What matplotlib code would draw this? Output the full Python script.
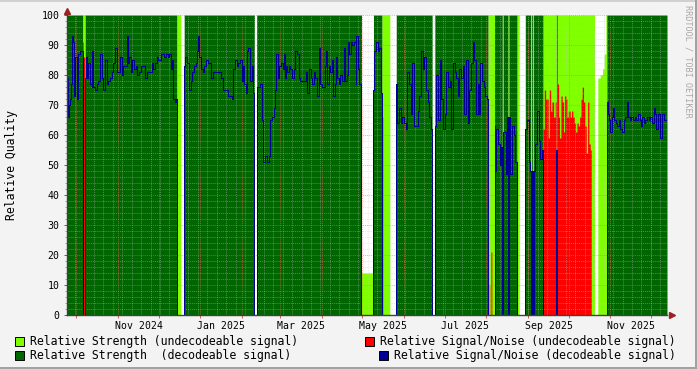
"""RRDtool-style signal quality chart: strength areas + signal/noise."""
import numpy as np
import matplotlib
matplotlib.use("Agg")
import matplotlib.pyplot as plt
import matplotlib.dates as mdates
import matplotlib.transforms as mtransforms
from matplotlib.patches import Rectangle

W, H = 697, 369
START = np.datetime64("2024-09-24")
END_DAY = 445.0

# receiver state, run-length coded: start day (since START), kind, strength level
seg_day = [0.0, 11.6, 13.4, 81.4, 84.4, 86.9, 139.0, 140.7, 218.4, 227.3,
           233.5, 239.4, 244.2, 270.8, 272.8, 312.2, 317.1, 322.8, 323.5, 327.0,
           327.7, 333.7, 335.4, 339.9, 343.8, 344.6, 345.3, 346.0, 353.0, 362.9,
           363.6, 391.3, 393.7, 395.5, 397.2, 398.4, 399.7, 400.4]
seg_kind = ["dec", "undec", "dec", "undec", "gap", "dec", "gap", "dec", "undec", "dec",
            "undec", "gap", "dec", "gap", "dec", "undec", "dec", "undec", "dec", "undec",
            "dec", "undec", "gap", "dec", "undec", "dec", "undec", "dec", "undec", "dec",
            "undec", "gap", "undec", "undec", "undec", "undec", "undec", "dec"]
seg_level = [100, 100, 100, 100, 0, 100, 0, 100, 14, 100,
             100, 0, 100, 0, 100, 100, 100, 100, 100, 100,
             100, 100, 0, 100, 100, 100, 100, 100, 100, 100,
             100, 0, 79, 80, 82, 87, 100, 100]

# relative signal/noise, step series
snr_day = [0.0, 0.4, 1.5, 2.2, 3.0, 3.5, 4.2, 5.0, 6.2, 7.2, 8.4, 9.4, 11.6, 12.1,
           13.4, 14.0, 15.0, 15.8, 17.1, 18.3, 18.8, 19.5, 20.8, 22.0, 23.3, 24.5,
           25.7, 27.0, 28.2, 29.4, 30.7, 31.9, 33.1, 34.4, 35.6, 36.8, 39.3, 40.6,
           41.8, 44.3, 45.0, 46.2, 47.2, 48.5, 49.7, 51.0, 52.2, 53.4, 54.7, 57.9,
           59.1, 62.8, 64.1, 65.3, 66.5, 67.8, 69.5, 72.2, 73.4, 74.7, 75.9, 76.9,
           78.1, 78.9, 79.9, 80.6, 81.4,
           86.9, 87.8, 88.8, 90.5, 91.8, 93.0, 94.2, 95.5, 96.5, 97.2, 98.2, 99.4,
           100.7, 101.9, 103.1, 104.4, 106.8, 108.1, 114.3, 115.5, 119.7, 122.2,
           123.4, 124.6, 125.9, 127.1, 128.4, 129.6, 130.3, 131.3, 132.6, 133.3,
           134.5, 135.8, 137.0, 138.2, 139.0,
           140.7, 143.2, 144.4, 145.2, 147.2, 148.4, 149.6, 150.9, 152.1, 153.4,
           154.1, 154.6, 155.3, 156.3, 157.6, 159.0, 160.0, 160.8, 161.5, 162.5,
           163.5, 164.5, 165.7, 167.0, 168.2, 169.4, 170.7, 171.9, 172.6, 176.9,
           178.1, 179.3, 180.6, 181.8, 183.0, 184.3, 185.5, 186.7, 188.0, 189.2,
           191.2, 192.2, 193.2, 194.2, 195.4, 196.6, 197.4, 198.6, 199.6, 200.6,
           201.6, 202.8, 204.1, 205.3, 206.5, 207.8, 208.5, 209.5, 210.5, 211.5,
           212.7, 214.0, 214.7, 215.7, 216.4, 217.7, 218.4,
           227.3, 227.8, 229.0, 230.3, 231.5, 232.7, 233.5, 234.2,
           244.2, 245.1, 246.3, 247.6, 248.8, 250.0, 251.3, 252.5, 253.8, 255.0,
           256.2, 257.5, 260.0, 261.2, 262.4, 263.7, 264.9, 266.1, 267.4, 268.6,
           269.8, 270.8,
           272.8, 273.8, 275.0, 276.3, 277.5, 278.7, 280.0, 281.2, 282.4, 283.7,
           284.9, 286.2, 287.4, 288.6, 289.9, 291.1, 292.3, 293.6, 294.8, 296.0,
           297.3, 298.5, 299.8, 301.0, 302.0, 303.2, 304.5, 305.7, 306.5, 307.7,
           309.0, 310.2, 311.4, 312.2, 313.2, 313.6, 314.4, 315.1,
           317.1, 317.6, 318.3, 319.6, 320.8, 322.1, 322.8, 323.5, 325.5, 326.3,
           327.0, 327.7, 328.7, 330.0, 331.2, 332.4, 333.7,
           339.9, 341.1, 342.3, 343.6, 343.8, 344.6, 345.3, 346.0, 347.3, 348.5,
           349.8, 351.0, 352.2,
           353.0, 354.0, 355.0, 356.9, 357.7, 358.7, 359.6, 360.9, 362.1, 362.9,
           363.6, 364.6, 365.3, 366.3, 367.3, 368.3, 369.0, 370.0, 370.8, 371.8,
           373.2, 374.2, 375.2, 376.2, 377.2, 378.2, 379.2, 380.2, 381.2, 382.1,
           383.1, 384.1, 385.1, 386.1, 387.1, 388.1, 388.8,
           400.4, 400.9, 401.9, 402.9, 403.9, 404.9, 405.9, 406.9, 407.8, 409.1,
           410.3, 411.6, 412.8, 414.0, 415.3, 416.2, 417.2, 418.5, 419.7, 421.0,
           422.2, 423.4, 424.7, 425.6, 426.6, 427.6, 428.9, 430.1, 431.3, 432.6,
           433.8, 435.0, 436.0, 437.0, 438.0, 440.0, 441.0, 443.0]
snr_val = [79, 66, 70, 72, 77, 93, 91, 73, 86, 72, 87, 88, 91, 86,
           79, 86, 79, 84, 77, 76, 88, 76, 75, 77, 78, 87,
           79, 75, 85, 77, 78, 79, 81, 84, 89, 81, 86, 80,
           83, 93, 84, 86, 81, 85, 82, 83, 80, 81, 83, 79,
           81, 84, 82, 84, 86, 85, 87, 86, 87, 86, 87, 82,
           85, 72, 71, 72, 0,
           83, 86, 84, 75, 78, 81, 83, 84, 88, 93, 86, 82,
           81, 83, 85, 84, 79, 81, 79, 75, 73, 72,
           82, 85, 83, 84, 85, 78, 83, 77, 74, 88,
           89, 78, 83, 74, 0,
           76, 77, 65, 51, 53, 51, 53, 65, 66, 69,
           73, 75, 87, 79, 83, 84, 82, 87, 79, 83,
           81, 83, 82, 79, 82, 88, 87, 79, 78, 81,
           74, 82, 79, 77, 81, 79, 73, 89, 77, 76,
           83, 88, 77, 83, 81, 85, 73, 77, 86, 79,
           77, 80, 78, 89, 78, 80, 91, 87, 91, 90,
           91, 77, 93, 82, 77, 75, 0,
           75, 88, 91, 88, 89, 74, 66, 0,
           77, 64, 69, 64, 66, 64, 62, 81, 77, 67,
           84, 63, 68, 73, 88, 82, 86, 75, 71, 66,
           62, 0,
           63, 80, 65, 85, 72, 62, 67, 81, 76, 78,
           62, 84, 81, 79, 73, 82, 79, 83, 67, 85,
           64, 75, 84, 91, 85, 67, 77, 67, 84, 78,
           76, 73, 72, 0, 10, 0, 21, 0,
           63, 48, 62, 57, 50, 56, 0, 61, 47, 66,
           0, 66, 47, 63, 60, 51, 0,
           62, 65, 51, 48, 0, 48, 0, 48, 57, 68,
           58, 52, 55,
           62, 75, 72, 59, 75, 68, 71, 66, 71, 55,
           77, 66, 59, 73, 71, 61, 73, 72, 66, 68,
           66, 68, 66, 64, 61, 64, 63, 66, 72, 76,
           71, 63, 54, 71, 57, 55, 0,
           71, 67, 65, 61, 66, 69, 65, 64, 63, 65,
           62, 61, 65, 66, 71, 66, 65, 66, 65, 66,
           65, 67, 65, 63, 66, 64, 65, 66, 65, 66,
           64, 69, 67, 62, 67, 59, 67, 65]

tick_labels = ["Nov 2024", "Jan 2025", "Mar 2025", "May 2025", "Jul 2025", "Sep 2025", "Nov 2025"]
tick_months = ["2024-11-01", "2025-01-01", "2025-03-01", "2025-05-01", "2025-07-01", "2025-09-01", "2025-11-01"]

legend_labels = ["Relative Strength (undecodeable signal)",
                 "Relative Signal/Noise (undecodeable signal)",
                 "Relative Strength  (decodeable signal)",
                 "Relative Signal/Noise (decodeable signal)"]

LGREEN, DGREEN, RED, BLUE = "#80FF00", "#006600", "#FF0000", "#000099"
BG = "#F3F3F3"
MONO = "DejaVu Sans Mono"

# ---- build step arrays ----
x0 = mdates.date2num(START)
bp = np.unique(np.r_[seg_day, snr_day, END_DAY])
i_seg = np.searchsorted(seg_day, bp, side="right") - 1
i_snr = np.searchsorted(snr_day, bp, side="right") - 1
kind = np.array(seg_kind)[i_seg]
lev = np.array(seg_level, dtype=float)[i_seg]
snr = np.array(snr_val, dtype=float)[i_snr]
undec = kind == "undec"
dec = kind == "dec"
x = x0 + bp

fig = plt.figure(figsize=(W / 100, H / 100), dpi=100, facecolor=BG)
ax = fig.add_axes([67 / W, 1 - 315 / H, 600 / W, 300 / H])
ax.set_facecolor("white")

kw = dict(step="post", lw=0, antialiased=False)
ax.fill_between(x, 0, np.where(undec, lev, 0), color=LGREEN, zorder=1, **kw)
ax.fill_between(x, 0, np.where(dec, lev, 0), color=DGREEN, zorder=1, **kw)
ax.fill_between(x, 0, np.where(undec, snr, 0), color=RED, zorder=2, **kw)

# grid on top of the areas, rrdtool style
xmin, xmax = x0, x0 + END_DAY
dmin, dmax = mdates.num2date(xmin), mdates.num2date(xmax)
dots = (0, (1, 1))
for v in mdates.WeekdayLocator(byweekday=mdates.MO).tick_values(dmin, dmax):
    if xmin < v < xmax:
        ax.axvline(v, color="#c8c8c8", alpha=0.4, lw=0.7, ls=dots, zorder=3)
for v in range(2, 100, 2):
    if v % 10:
        ax.axhline(v, color="#c8c8c8", alpha=0.4, lw=0.7, ls=dots, zorder=3)
months = [m for m in mdates.MonthLocator().tick_values(dmin, dmax) if xmin < m < xmax]
for v in months:
    ax.axvline(v, color="#ff6060", alpha=0.55, lw=0.7, ls=dots, zorder=3)
for v in range(10, 101, 10):
    ax.axhline(v, color="#ff6060", alpha=0.55, lw=0.7, ls=dots, zorder=3)

ax.step(x, np.where(dec, snr, 0), where="post", color=BLUE, lw=0.72, zorder=4,
        antialiased=False)

ax.set_xlim(xmin, xmax)
ax.set_ylim(0, 100)
for s in ("top", "right"):
    ax.spines[s].set_visible(False)
for s in ("left", "bottom"):
    ax.spines[s].set_color("#404040")
    ax.spines[s].set_linewidth(1.0)
    ax.spines[s].set_zorder(5)

ax.set_yticks(range(0, 101, 10))
ax.set_yticks(range(0, 101, 2), minor=True)
ax.set_xticks([mdates.date2num(np.datetime64(m)) + 15.2 for m in tick_months])
ax.set_xticklabels(tick_labels)
ax.set_xticks(months, minor=True)
ax.tick_params(axis="y", which="major", length=2.2, width=0.7, color="#606060",
               pad=3, labelsize=7.1)
ax.tick_params(axis="y", which="minor", length=1.5, width=0.6, color="#909090")
ax.tick_params(axis="x", which="major", length=0, pad=4, labelsize=7.1)
ax.tick_params(axis="x", which="minor", length=2.5, width=0.7, color="#d06060")
for lab in ax.get_xticklabels() + ax.get_yticklabels():
    lab.set_fontfamily(MONO)
    lab.set_color("#000000")

# axis arrows
arrow = "#992222"
ax.plot([0], [1], marker="^", ms=4.5, color=arrow, clip_on=False, zorder=6,
        transform=mtransforms.offset_copy(ax.transAxes, fig=fig, x=0, y=4, units="dots"))
ax.plot([1], [0], marker=">", ms=4.5, color=arrow, clip_on=False, zorder=6,
        transform=mtransforms.offset_copy(ax.transAxes, fig=fig, x=5, y=0, units="dots"))


def fx(px):
    return px / W


def fy(py):
    return 1 - py / H


fig.text(fx(12), fy(165), "Relative Quality", rotation=90, ha="center", va="center",
         fontsize=8.3, family=MONO)
fig.text(fx(688), fy(5), "RRDTOOL / TOBI OETIKER", rotation=270, ha="center", va="top",
         fontsize=6.1, family=MONO, color="#a8a8a8")

# legend
items = [(15, 341, LGREEN), (365, 341, RED), (15, 355, DGREEN), (379, 355, BLUE)]
for (lx, ly, c), lab in zip(items, legend_labels):
    fig.patches.append(Rectangle((fx(lx), fy(ly + 4.5)), 9 / W, 9 / H, transform=fig.transFigure,
                                 facecolor=c, edgecolor="black", lw=0.7))
    fig.text(fx(lx + 15), fy(ly), lab, ha="left", va="center", fontsize=8.3, family=MONO)

# 3d frame
fig.add_artist(plt.Line2D([0, 1], [1 - 1 / H, 1 - 1 / H], transform=fig.transFigure,
                          color="#d0d0d0", lw=1.4))
fig.add_artist(plt.Line2D([1 - 1.5 / W, 1 - 1.5 / W], [0, 1], transform=fig.transFigure,
                          color="#a0a0a0", lw=1.4))
fig.add_artist(plt.Line2D([0, 1], [1.5 / H, 1.5 / H], transform=fig.transFigure,
                          color="#a0a0a0", lw=1.4))

fig.savefig("out.png", dpi=100, facecolor=BG)
